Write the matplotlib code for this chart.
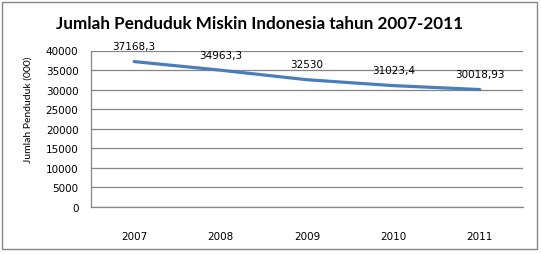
import matplotlib
matplotlib.use("Agg")
import matplotlib.pyplot as plt
from matplotlib.patches import Rectangle

years = ["2007", "2008", "2009", "2010", "2011"]
values = [37168.3, 34963.3, 32530, 31023.4, 30018.93]
labels = ["37168,3", "34963,3", "32530", "31023,4", "30018,93"]
yticks = [0, 5000, 10000, 15000, 20000, 25000, 30000, 35000, 40000]

fig = plt.figure(figsize=(5.41, 2.55), dpi=100)
fig.patches.append(Rectangle((2/541, 5/255), 535/541, 247/255, transform=fig.transFigure,
                             fill=False, edgecolor="#868686", linewidth=1.0))
ax = fig.add_axes([91/541, 1 - 208/255, (523-91)/541, (208-51.5)/255])

x = list(range(len(years)))
ax.plot(x, values, color="#4A7EBB", linewidth=2.3, solid_capstyle="round")
ax.set_xlim(-0.5, len(years) - 0.5)
ax.set_ylim(0, 40000)
ax.set_yticks(yticks)
ax.set_yticklabels([str(v) for v in yticks], fontsize=7.5, family="DejaVu Sans")
ax.set_xticks(x)
ax.set_xticklabels(years, fontsize=7.5, family="DejaVu Sans")
ax.tick_params(axis="both", length=0, colors="black")
ax.tick_params(axis="x", pad=17)
ax.tick_params(axis="y", pad=9)
ax.grid(axis="y", color="#868686", linewidth=0.9)
ax.set_axisbelow(True)
for s in ["top", "right"]:
    ax.spines[s].set_visible(False)
for s in ["left", "bottom"]:
    ax.spines[s].set_color("#868686")
    ax.spines[s].set_linewidth(0.9)

for xi, v, lab in zip(x, values, labels):
    ax.annotate(lab, (xi, v), xytext=(0, 7.5), textcoords="offset points",
                ha="center", va="bottom", fontsize=7.5, family="DejaVu Sans")

fig.text(28/541, 1 - 110/255, "Jumlah Penduduk (000)", rotation=90,
         ha="center", va="center", fontsize=7.5, family="Lato")
fig.text(260/541, 1 - 24/255, "Jumlah Penduduk Miskin Indonesia tahun 2007-2011",
         ha="center", va="center", fontsize=12.3, fontweight="bold", family="Lato")

fig.savefig("out.png", dpi=100)
